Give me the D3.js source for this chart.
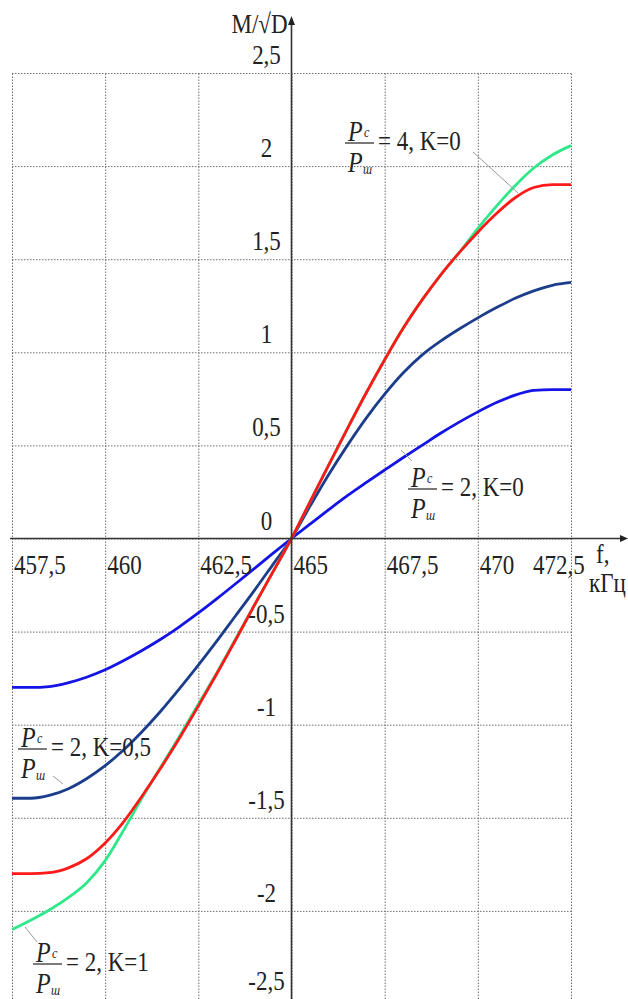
<!DOCTYPE html>
<html>
<head>
<meta charset="utf-8">
<script src="https://cdn.jsdelivr.net/npm/d3@7"></script>
<style>
  html, body { margin: 0; padding: 0; background: #fff; }
  svg { display: block; }
  text { font-family: "Liberation Serif", "DejaVu Serif", "Noto Serif", serif; }
</style>
</head>
<body>
<svg id="chart" width="628" height="999"></svg>
<script>
// Frequency grid, kHz
const freq = [457.5, 458, 458.5, 459, 459.5, 460, 460.5, 461, 461.5, 462, 462.5,
              463, 463.5, 464, 464.5, 465, 465.5, 466, 466.5, 467, 467.5,
              468, 468.5, 469, 469.5, 470, 470.5, 471, 471.5, 472, 472.5];

// M/sqrt(D) for Pc/Pш = 2, K = 0
const m2k0 = [-0.80, -0.80, -0.795, -0.775, -0.745, -0.705, -0.655, -0.60, -0.54, -0.473, -0.40,
              -0.323, -0.243, -0.162, -0.08, 0, 0.078, 0.155, 0.23, 0.30, 0.368,
              0.435, 0.50, 0.565, 0.625, 0.68, 0.73, 0.77, 0.795, 0.80, 0.80];
// Pc/Pш = 2, K = 0,5
const m2k05 = [-1.395, -1.395, -1.38, -1.345, -1.29, -1.22, -1.135, -1.035, -0.925, -0.805, -0.68,
               -0.55, -0.415, -0.28, -0.14, 0, 0.175, 0.344, 0.50, 0.645, 0.775,
               0.89, 0.985, 1.06, 1.125, 1.185, 1.24, 1.29, 1.33, 1.36, 1.375];
// Pc/Pш = 2, K = 1
const m2k1 = [-2.10, -2.05, -1.995, -1.93, -1.85, -1.73, -1.565, -1.39, -1.225, -1.06, -0.89,
              -0.72, -0.54, -0.36, -0.18, 0, 0.198, 0.395, 0.59, 0.78, 0.96,
              1.13, 1.28, 1.415, 1.535, 1.665, 1.785, 1.895, 1.99, 2.06, 2.11];
// Pc/Pш = 4, K = 0
const m4k0 = [-1.80, -1.80, -1.795, -1.77, -1.72, -1.635, -1.52, -1.38, -1.23, -1.07, -0.90,
              -0.725, -0.545, -0.36, -0.18, 0, 0.198, 0.395, 0.59, 0.78, 0.96,
              1.13, 1.28, 1.415, 1.535, 1.645, 1.745, 1.83, 1.885, 1.90, 1.90];

const xTicks = [457.5, 460, 462.5, 465, 467.5, 470, 472.5];
const xTickLabels = ["457,5", "460", "462,5", "465", "467,5", "470", "472,5"];
const yTicks = [-2.5, -2, -1.5, -1, -0.5, 0, 0.5, 1, 1.5, 2, 2.5];
const yTickLabels = ["-2,5", "-2", "-1,5", "-1", "-0,5", "0", "0,5", "1", "1,5", "2", "2,5"];

const W = 628, H = 999;
const INK = "#222";

const svg = d3.select("#chart");
const x = d3.scaleLinear().domain([457.5, 472.5]).range([12, 571]);
const y = d3.scaleLinear().domain([-2.5, 2.5]).range([1004, 73]);

const x0 = x(465), y0 = y(0);

// Dotted grid built from the axes' ticks
const gridStyle = g => {
  g.select(".domain").remove();
  g.selectAll(".tick line")
    .attr("stroke", "#6f6f6f")
    .attr("stroke-width", 1)
    .attr("stroke-dasharray", "1.5,1.5");
};
svg.append("g")
  .attr("transform", `translate(0,${H})`)
  .call(d3.axisBottom(x).tickValues(xTicks).tickFormat("").tickSize(-(H - y(2.5))).tickSizeOuter(0))
  .call(gridStyle);
svg.append("g")
  .attr("transform", `translate(${x(457.5)},0)`)
  .call(d3.axisLeft(y).tickValues(yTicks).tickFormat("").tickSize(-(x(472.5) - x(457.5))).tickSizeOuter(0))
  .call(gridStyle);

// Curves
const line = d3.line()
  .x((d, i) => x(freq[i]))
  .y(d => y(d))
  .curve(d3.curveMonotoneX);

const series = [
  { values: m2k0,  color: "#1414e6" },
  { values: m2k05, color: "#1c3d8c" },
  { values: m2k1,  color: "#2ee88a" },
  { values: m4k0,  color: "#ff1a1a" }
];
svg.append("g").selectAll("path")
  .data(series)
  .join("path")
  .attr("d", d => line(d.values))
  .attr("fill", "none")
  .attr("stroke", d => d.color)
  .attr("stroke-width", 2.8)
  .attr("stroke-linejoin", "round");

// Main axes with arrows
const axes = svg.append("g").attr("stroke", "#333").attr("stroke-width", 1.6);
axes.append("line").attr("x1", 10).attr("x2", W - 5).attr("y1", y0).attr("y2", y0);
axes.append("line").attr("x1", x0).attr("x2", x0).attr("y1", 24).attr("y2", H);
svg.append("path")
  .attr("d", `M${W},${y0} L${W - 8},${y0 - 3.5} L${W - 8},${y0 + 3.5} Z`)
  .attr("fill", "#222");
svg.append("path")
  .attr("d", `M${x0},16 L${x0 - 3.5},25 L${x0 + 3.5},25 Z`)
  .attr("fill", "#222");

// Text helper: serif text, slightly tall
function label(str, tx, ty, opts = {}) {
  return svg.append("text")
    .attr("transform", `translate(${tx},${ty}) scale(1,1.2)`)
    .attr("font-size", opts.size || 23)
    .attr("font-style", opts.italic ? "italic" : "normal")
    .attr("text-anchor", opts.anchor || "start")
    .attr("fill", INK)
    .text(str);
}

// Tick labels
xTicks.forEach((v, i) => {
  const last = i === xTicks.length - 1;
  label(xTickLabels[i], last ? x(v) - 38 : x(v) + 2, y0 + 35);
});
yTicks.forEach((v, i) => {
  label(yTickLabels[i], x0 - 25, Math.min(y(v) - 9, 990), { anchor: "middle" });
});

// Axis titles
label("M/\u221AD", x0 - 4, 33, { anchor: "end" });
label("f,", 596, 563);
label("кГц", 589, 592);

// Curve annotations: Pc/Pш = n, K = k
function ratioNote(bx, by, rest) {
  svg.append("line")
    .attr("x1", bx).attr("x2", bx + 29)
    .attr("y1", by).attr("y2", by)
    .attr("stroke", INK).attr("stroke-width", 1.2);
  label("P", bx + 3, by - 2, { italic: true, size: 24 });
  label("c", bx + 19, by - 6, { italic: true, size: 12 });
  label("P", bx + 3, by + 29, { italic: true, size: 24 });
  label("ш", bx + 18, by + 31, { italic: true, size: 12 });
  label(rest, bx + 33, by + 7);
}
ratioNote(345, 143, "= 4, K=0");
ratioNote(408, 489, "= 2, K=0");
ratioNote(18, 749, "= 2, K=0,5");
ratioNote(33, 964, "= 2, K=1");

// Leader lines
const leaders = [
  [473, 152, 518, 193],
  [401, 450, 412, 461],
  [53, 776, 63, 784],
  [25, 927, 37, 942]
];
svg.append("g").selectAll("line")
  .data(leaders)
  .join("line")
  .attr("x1", d => d[0]).attr("y1", d => d[1])
  .attr("x2", d => d[2]).attr("y2", d => d[3])
  .attr("stroke", "#9a9a9a").attr("stroke-width", 1);
</script>
</body>
</html>
